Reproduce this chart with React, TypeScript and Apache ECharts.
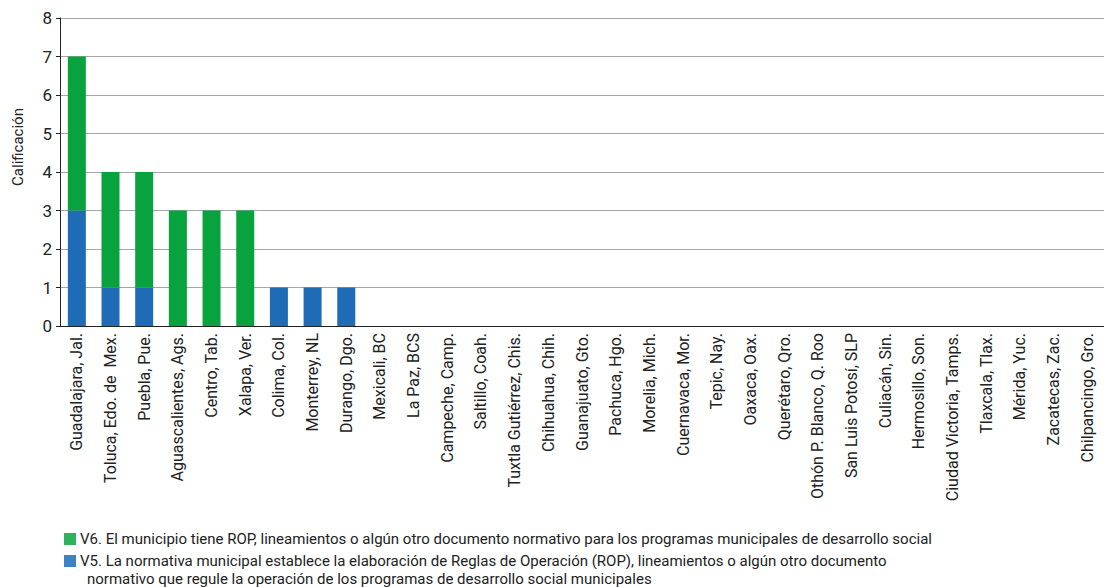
import React, { useEffect, useRef } from "react";
import * as echarts from "echarts";

const categories = [
  "Guadalajara, Jal.", "Toluca, Edo. de  Mex.", "Puebla, Pue.", "Aguascalientes, Ags.", "Centro, Tab.",
  "Xalapa, Ver.", "Colima, Col.", "Monterrey, NL", "Durango, Dgo.", "Mexicali, BC", "La Paz, BCS",
  "Campeche, Camp.", "Saltillo, Coah.", "Tuxtla Gutiérrez, Chis.", "Chihuahua, Chih.", "Guanajuato, Gto.",
  "Pachuca, Hgo.", "Morelia, Mich.", "Cuernavaca, Mor.", "Tepic, Nay.", "Oaxaca, Oax.", "Querétaro, Qro.",
  "Othón P. Blanco, Q. Roo", "San Luis Potosí, SLP", "Culiacán, Sin.", "Hermosillo, Son.",
  "Ciudad Victoria, Tamps.", "Tlaxcala, Tlax.", "Mérida, Yuc.", "Zacatecas, Zac.", "Chilpancingo, Gro.",
];
const v5Values = [3, 1, 1, 0, 0, 0, 1, 1, 1, 0, 0, 0, 0, 0, 0, 0, 0, 0, 0, 0, 0, 0, 0, 0, 0, 0, 0, 0, 0, 0, 0];
const v6Values = [4, 3, 3, 3, 3, 3, 0, 0, 0, 0, 0, 0, 0, 0, 0, 0, 0, 0, 0, 0, 0, 0, 0, 0, 0, 0, 0, 0, 0, 0, 0];
const yTicks = [0, 1, 2, 3, 4, 5, 6, 7, 8];
const v6Label = "V6. El municipio tiene ROP, lineamientos o algún otro documento normativo para los programas municipales de desarrollo social";
const v5Label1 = "V5. La normativa municipal establece la elaboración de Reglas de Operación (ROP), lineamientos o algún otro documento";
const v5Label2 = "normativo que regule la operación de los programas de desarrollo social municipales";
const yName = "Calificación";

const GREEN = "#08a23f";
const BLUE = "#1f6bb5";
const FONT = "Roboto, 'Noto Sans', sans-serif";

export default function App() {
  const ref = useRef<HTMLDivElement>(null);
  useEffect(() => {
    if (!ref.current) return;
    const chart = echarts.init(ref.current, null, { renderer: "svg" });
    chart.setOption({
      animation: false,
      textStyle: { fontFamily: FONT },
      grid: { left: 60, right: -10, top: 18, bottom: 261, containLabel: false },
      xAxis: {
        type: "category",
        data: categories,
        axisLine: { lineStyle: { color: "#222", width: 1 } },
        axisTick: { alignWithLabel: false, length: 5, lineStyle: { color: "#222" } },
        axisLabel: { rotate: 90, interval: 0, fontSize: 16, color: "#222", margin: 7, fontFamily: FONT },
      },
      yAxis: {
        type: "value",
        min: yTicks[0],
        max: yTicks[yTicks.length - 1],
        interval: 1,
        axisLine: { show: true, lineStyle: { color: "#222" } },
        axisTick: { show: true, length: 4, lineStyle: { color: "#222" } },
        axisLabel: { fontSize: 17, color: "#222", margin: 8, fontFamily: FONT },
        splitLine: { lineStyle: { color: "#a6a6a6", width: 1 } },
      },
      series: [
        { name: "V5", type: "bar", stack: "a", data: v5Values, barWidth: 18, itemStyle: { color: BLUE } },
        { name: "V6", type: "bar", stack: "a", data: v6Values, barWidth: 18, itemStyle: { color: GREEN } },
      ],
      graphic: [
        {
          type: "text", x: 18, y: 147, rotation: Math.PI / 2,
          style: { text: yName, fontSize: 15, fill: "#222", align: "center", verticalAlign: "middle", fontFamily: FONT },
        },
        { type: "rect", shape: { x: 64, y: 533, width: 12, height: 12 }, style: { fill: "#2db35a" } },
        { type: "rect", shape: { x: 64, y: 555, width: 12, height: 12 }, style: { fill: "#3d82c4" } },
        {
          type: "text", x: 80, y: 539,
          style: { text: v6Label, fontSize: 15, fill: "#222", verticalAlign: "middle", fontFamily: FONT },
        },
        {
          type: "text", x: 80, y: 561,
          style: { text: v5Label1, fontSize: 15, fill: "#222", verticalAlign: "middle", fontFamily: FONT },
        },
        {
          type: "text", x: 87, y: 579,
          style: { text: v5Label2, fontSize: 15, fill: "#222", verticalAlign: "middle", fontFamily: FONT },
        },
      ],
    });
    return () => chart.dispose();
  }, []);
  return <div ref={ref} style={{ position: "fixed", left: 0, top: 0, width: 1104, height: 587, background: "#fff" }} />;
}
